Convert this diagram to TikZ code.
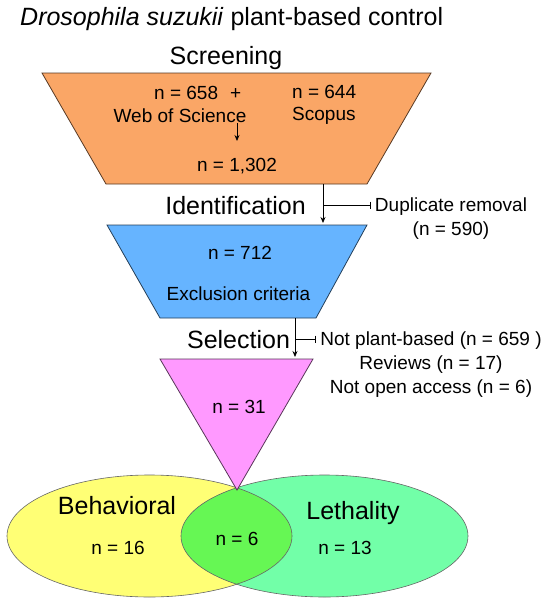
\documentclass[tikz,border=0pt]{standalone}
\usepackage{fontspec}
\setmainfont{Liberation Sans}
\usetikzlibrary{positioning,arrows.meta,shapes.geometric}

\definecolor{scrorange}{RGB}{250,166,102}
\definecolor{idblue}{RGB}{102,180,255}
\definecolor{selpink}{RGB}{255,153,255}
\definecolor{behyellow}{RGB}{255,255,117}
\definecolor{lethgreen}{RGB}{114,255,168}
\definecolor{lensgreen}{RGB}{102,247,84}

\begin{document}
\begin{tikzpicture}[
    x=1pt,
    y=-1pt,
    font=\fontsize{19}{24}\selectfont,
    every node/.style={inner sep=0pt},
    txt/.style={anchor=base},
    heading/.style={anchor=base, font=\fontsize{25}{30}\selectfont},
    funnel/.style={fill=#1, draw=#1!35!black, line width=0.8pt},
    venn/.style={ellipse, fill=#1, minimum height=122pt},
    vennline/.style={draw=gray!80!black, line width=0.6pt},
    side/.style={align=center, inner xsep=4pt},
    flow/.style={-{Stealth[length=6pt,width=5pt]}, line width=0.8pt},
    cut/.style={-{Bar[width=7pt]}, line width=0.8pt}
]
\useasboundingbox (0,0) rectangle (550,605);

% title and stage headings
\node[anchor=base west, font=\fontsize{25}{30}\selectfont] (title) at (20,25) {\textit{Drosophila suzukii} plant-based control};
\node[heading] (screening) at (226,64) {Screening};
\node[heading] (identification) at (235.5,214) {Identification};
\node[heading] (selection) at (238.5,348) {Selection};

% screening
\draw[funnel=scrorange] (42,73) -- (431,73) -- (367,184) -- (106,184) -- cycle;
\node[anchor=base west] (wosn) at (154,99) {n = 658\hspace{12pt}+};
\node[txt] (wos) at (180,122) {Web of Science};
\node[anchor=base west] (scopn) at (292,98) {n = 644};
\node[anchor=base west] (scop) at (292,120) {Scopus};
\node[txt] (total) at (237,171) {n = 1,302};
\coordinate (sum-from) at (237,123);
\coordinate (sum-to) at (237,141);
\draw[flow] (sum-from) -- (sum-to);

% identification
\draw[funnel=idblue] (107,225) -- (367,225) -- (316,318) -- (160,318) -- cycle;
\node[txt] (idn) at (240,259) {n = 712};
\node[txt] (excl) at (238.5,300) {Exclusion criteria};
\node[side] (dup) at (451,219) {Duplicate removal\\(n = 590)};
\coordinate (id-from) at (323,184);
\coordinate (id-to) at (323,223);
\coordinate (id-fork) at (323,205);
\draw[flow] (id-from) -- (id-to);
\draw[cut] (id-fork) -- (id-fork -| dup.west);

% venn of the included studies
\node[venn=behyellow, minimum width=285pt] (behav) at (149.5,536) {};
\node[venn=lethgreen, minimum width=287pt] (leth) at (324.5,536) {};
\begin{scope}
    \clip (behav.center) ellipse [x radius=142.5pt, y radius=61pt];
    \fill[lensgreen] (leth.center) ellipse [x radius=143.5pt, y radius=61pt];
\end{scope}
\draw[vennline] (behav.center) ellipse [x radius=142.5pt, y radius=61pt];
\draw[vennline] (leth.center) ellipse [x radius=143.5pt, y radius=61pt];
\node[heading] (behavlabel) at (117,514) {Behavioral};
\node[heading] (lethlabel) at (353,519) {Lethality};
\node[txt] (behavn) at (118,554) {n = 16};
\node[txt] (bothn) at (237,545) {n = 6};
\node[txt] (lethn) at (345,554) {n = 13};

% selection
\draw[funnel=selpink] (160,359) -- (313,359) -- (237,490) -- cycle;
\node[txt] (seln) at (239,413) {n = 31};
\node[side] (removed) at (431,365) {Not plant-based (n = 659 )\\Reviews (n = 17)\\Not open access (n = 6)};
\coordinate (sel-from) at (295,318);
\coordinate (sel-to) at (295,357);
\coordinate (sel-fork) at (295,339);
\draw[flow] (sel-from) -- (sel-to);
\draw[cut] (sel-fork) -- (sel-fork -| removed.west);

\end{tikzpicture}
\end{document}
